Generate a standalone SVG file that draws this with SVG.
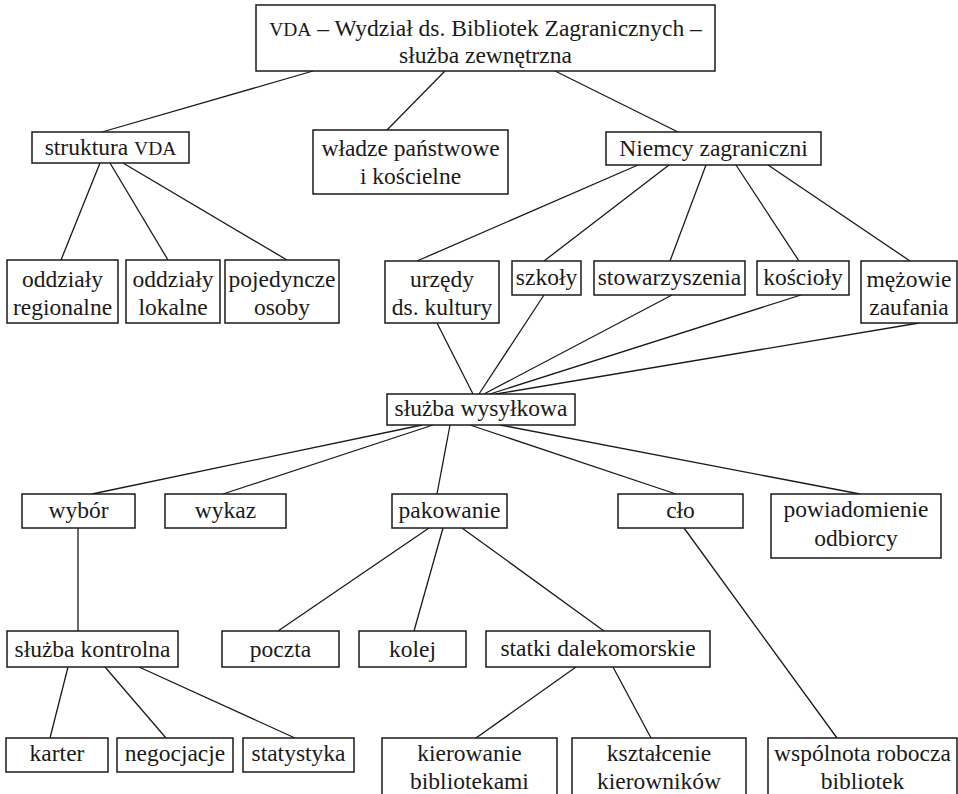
<svg xmlns="http://www.w3.org/2000/svg" width="958" height="794" viewBox="0 0 958 794">
<style>
rect{fill:#fff;stroke:#1a1a1a;stroke-width:1.5}
text{font-family:"Liberation Serif","Times New Roman","DejaVu Serif",serif;font-size:23.5px;fill:#1a1a1a;text-anchor:middle}
.sc{font-size:19.5px}
#connectors line{stroke:#1a1a1a;stroke-width:1.3}
</style>
<rect x="0" y="0" width="958" height="794" style="fill:#fff;stroke:none"/>
<g id="connectors">
<line x1="313" y1="71" x2="102" y2="132"/>
<line x1="445" y1="71" x2="387" y2="130"/>
<line x1="555" y1="71" x2="678" y2="132"/>
<line x1="100" y1="163" x2="61" y2="260"/>
<line x1="110" y1="163" x2="168" y2="260"/>
<line x1="123" y1="163" x2="287" y2="260"/>
<line x1="638" y1="165" x2="417" y2="261"/>
<line x1="669" y1="165" x2="544" y2="261"/>
<line x1="706" y1="165" x2="670" y2="261"/>
<line x1="736" y1="165" x2="799" y2="261"/>
<line x1="768" y1="165" x2="910" y2="261"/>
<line x1="437" y1="323" x2="473" y2="394"/>
<line x1="544" y1="295" x2="479" y2="394"/>
<line x1="672" y1="295" x2="484" y2="394"/>
<line x1="801" y1="295" x2="490" y2="394"/>
<line x1="919" y1="323" x2="496" y2="394"/>
<line x1="422" y1="425" x2="92" y2="494"/>
<line x1="433" y1="425" x2="223" y2="494"/>
<line x1="450" y1="425" x2="437" y2="494"/>
<line x1="470" y1="425" x2="676" y2="494"/>
<line x1="500" y1="425" x2="860" y2="494"/>
<line x1="78" y1="528" x2="78" y2="631"/>
<line x1="429" y1="528" x2="278" y2="631"/>
<line x1="443" y1="528" x2="414" y2="631"/>
<line x1="462" y1="528" x2="604" y2="631"/>
<line x1="684" y1="528" x2="837" y2="738"/>
<line x1="68" y1="667" x2="50" y2="738"/>
<line x1="105" y1="667" x2="166" y2="738"/>
<line x1="139" y1="667" x2="295" y2="738"/>
<line x1="576" y1="667" x2="476" y2="738"/>
<line x1="613" y1="667" x2="651" y2="738"/>
</g>
<g id="n-top"><rect x="256" y="5" width="459" height="66"/><text x="485.5" y="36"><tspan class="sc">VDA</tspan> – Wydział ds. Bibliotek Zagranicznych –</text><text x="485.5" y="63">służba zewnętrzna</text></g>
<g id="n-struktura"><rect x="32" y="132" width="157" height="31"/><text x="110.5" y="155">struktura <tspan class="sc">VDA</tspan></text></g>
<g id="n-wladze"><rect x="313" y="130" width="195" height="64"/><text x="410.5" y="156">władze państwowe</text><text x="410.5" y="184">i kościelne</text></g>
<g id="n-niemcy"><rect x="606" y="132" width="215" height="33"/><text x="713.5" y="156">Niemcy zagraniczni</text></g>
<g id="n-oddz-reg"><rect x="7" y="260" width="111" height="63"/><text x="62.5" y="287">oddziały</text><text x="62.5" y="315">regionalne</text></g>
<g id="n-oddz-lok"><rect x="126" y="260" width="94" height="63"/><text x="173" y="287">oddziały</text><text x="173" y="315">lokalne</text></g>
<g id="n-pojed"><rect x="225" y="260" width="114" height="63"/><text x="282" y="287">pojedyncze</text><text x="282" y="315">osoby</text></g>
<g id="n-urzedy"><rect x="385" y="261" width="114" height="62"/><text x="442" y="287">urzędy</text><text x="442" y="315">ds. kultury</text></g>
<g id="n-szkoly"><rect x="512" y="261" width="69" height="34"/><text x="546.5" y="285">szkoły</text></g>
<g id="n-stow"><rect x="594" y="261" width="151" height="34"/><text x="669.5" y="285">stowarzyszenia</text></g>
<g id="n-koscioly"><rect x="757" y="261" width="92" height="34"/><text x="803" y="285">kościoły</text></g>
<g id="n-mezowie"><rect x="861" y="261" width="96" height="62"/><text x="909" y="287">mężowie</text><text x="909" y="315">zaufania</text></g>
<g id="n-wysylkowa"><rect x="387" y="394" width="188" height="31"/><text x="481" y="416">służba wysyłkowa</text></g>
<g id="n-wybor"><rect x="22" y="494" width="113" height="34"/><text x="78.5" y="518">wybór</text></g>
<g id="n-wykaz"><rect x="165" y="494" width="121" height="34"/><text x="225.5" y="518">wykaz</text></g>
<g id="n-pakowanie"><rect x="392" y="494" width="115" height="34"/><text x="449.5" y="518">pakowanie</text></g>
<g id="n-clo"><rect x="618" y="494" width="125" height="34"/><text x="680.5" y="518">cło</text></g>
<g id="n-powiad"><rect x="771" y="494" width="170" height="64"/><text x="856" y="517">powiadomienie</text><text x="856" y="546">odbiorcy</text></g>
<g id="n-kontrolna"><rect x="7" y="631" width="171" height="36"/><text x="92.5" y="657">służba kontrolna</text></g>
<g id="n-poczta"><rect x="222" y="631" width="117" height="36"/><text x="280.5" y="657">poczta</text></g>
<g id="n-kolej"><rect x="359" y="631" width="107" height="36"/><text x="412.5" y="657">kolej</text></g>
<g id="n-statki"><rect x="486" y="631" width="224" height="36"/><text x="598" y="656">statki dalekomorskie</text></g>
<g id="n-karter"><rect x="6" y="738" width="102" height="34"/><text x="57" y="761">karter</text></g>
<g id="n-negocjacje"><rect x="117" y="738" width="116" height="34"/><text x="175" y="761">negocjacje</text></g>
<g id="n-statystyka"><rect x="243" y="738" width="111" height="34"/><text x="298.5" y="761">statystyka</text></g>
<g id="n-kierowanie"><rect x="382" y="738" width="175" height="70"/><text x="469.5" y="761">kierowanie</text><text x="469.5" y="789">bibliotekami</text></g>
<g id="n-ksztalcenie"><rect x="572" y="738" width="174" height="70"/><text x="659" y="761">kształcenie</text><text x="659" y="789">kierowników</text></g>
<g id="n-wspolnota"><rect x="768" y="738" width="189" height="70"/><text x="862.5" y="761">wspólnota robocza</text><text x="862.5" y="789">bibliotek</text></g>
</svg>
